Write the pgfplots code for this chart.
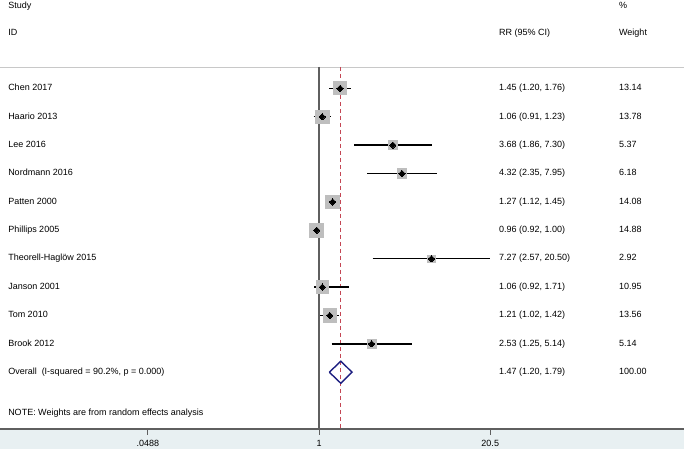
\documentclass[border=0pt]{standalone}
\usepackage{pgfplots}
\pgfplotsset{compat=1.18}
\usepackage{pgfplotstable}
\usepackage{fontspec}
\setmainfont{Liberation Sans}

\definecolor{sqgray}{RGB}{190,190,190}
\definecolor{refred}{RGB}{196,70,84}
\definecolor{axgray}{RGB}{95,95,95}
\definecolor{bandcol}{RGB}{232,240,242}
\definecolor{navy}{RGB}{28,30,128}
\definecolor{rulegray}{RGB}{200,200,200}

\tikzset{lab/.style={anchor=west, inner sep=0pt, text height=6.5pt, text depth=1.9pt,
    font=\fontsize{9}{11}\selectfont}}

% row, estimate, lower, upper, weight
\pgfplotstableread{
k   est   lo    hi     w
1   1.45  1.20  1.76   13.14
2   1.06  0.91  1.23   13.78
3   3.68  1.86  7.30   5.37
4   4.32  2.35  7.95   6.18
5   1.27  1.12  1.45   14.08
6   0.96  0.92  1.00   14.88
7   7.27  2.57  20.50  2.92
8   1.06  0.92  1.71   10.95
9   1.21  1.02  1.42   13.56
10  2.53  1.25  5.14   5.14
}\studies

\newcommand{\ci}[3]{\addplot[black, line width=1.5pt] coordinates {(#2,#1) (#3,#1)};}
\newcommand{\row}[4]{%
  \node[lab] at (axis cs:0.00415,#1) {#2};
  \node[lab] at (axis cs:23.9,#1) {#3};
  \node[lab] at (axis cs:198.5,#1) {#4};}

\begin{document}
\fontsize{9}{11}\selectfont
\begin{tikzpicture}
\begin{axis}[
  set layers,
  scale only axis,
  width=684pt, height=429pt,
  at={(0,0)}, anchor=south west,
  xmode=log,
  xmin=0.003601, xmax=625.2,
  ymin=-2.113, ymax=13,
  y dir=reverse,
  clip=false,
  axis y line=none,
  axis x line*=bottom,
  x axis line style={-, draw=axgray, line width=1.6pt},
  xtick={0.0488,1,20.5},
  xticklabels={.0488,1,20.5},
  minor xtick={},
  tick align=outside,
  major tick length=6pt,
  x tick style={draw=axgray, line width=1pt},
  xticklabel style={font=\fontsize{9}{11}\selectfont, inner sep=0pt, anchor=north, yshift=-5pt},
]
\begin{pgfonlayer}{axis background}
  \fill[bandcol] (rel axis cs:0,0) rectangle ([yshift=-20pt]rel axis cs:1,0);
\end{pgfonlayer}

% header rule, null line, overall line
\addplot[rulegray, line width=0.9pt] coordinates {(0.003601,0.246) (625.2,0.246)};
\addplot[axgray, line width=1.4pt] coordinates {(1,0.246) (1,13)};
\addplot[refred, line width=1pt, dash pattern=on 4pt off 3pt] coordinates {(1.47,0.246) (1.47,13)};

% weight boxes
\addplot[only marks, mark=square*, sqgray,
  mark options={draw=sqgray, fill=sqgray, line width=0pt},
  visualization depends on={1.6*sqrt(\thisrow{w})+0.8 \as \msz},
  scatter, scatter/use mapped color={draw=sqgray, fill=sqgray},
  scatter/@pre marker code/.append style={/tikz/mark size=\msz}]
  table[x=est, y=k] {\studies};

% confidence intervals
\ci{1}{1.20}{1.76}
\ci{2}{0.91}{1.23}
\ci{3}{1.86}{7.30}
\ci{4}{2.35}{7.95}
\ci{5}{1.12}{1.45}
\ci{6}{0.92}{1.00}
\ci{7}{2.57}{20.50}
\ci{8}{0.92}{1.71}
\ci{9}{1.02}{1.42}
\ci{10}{1.25}{5.14}

% point estimates
\addplot[only marks, mark=square*, mark size=2.2pt, black,
  mark options={rotate=45, draw=black, fill=black, line width=0pt}]
  table[x=est, y=k] {\studies};

% pooled estimate
\addplot[navy, line width=1.4pt] coordinates {(1.20,11) (1.47,10.61) (1.79,11) (1.47,11.39) (1.20,11)};

% text columns
\node[lab] at (axis cs:0.00415,-1.9) {Study};
\node[lab] at (axis cs:0.00415,-0.951) {ID};
\node[lab] at (axis cs:23.9,-0.951) {RR (95\% CI)};
\node[lab] at (axis cs:198.5,-1.9) {\%};
\node[lab] at (axis cs:198.5,-0.951) {Weight};
\row{1}{Chen 2017}{1.45 (1.20, 1.76)}{13.14}
\row{2}{Haario 2013}{1.06 (0.91, 1.23)}{13.78}
\row{3}{Lee 2016}{3.68 (1.86, 7.30)}{5.37}
\row{4}{Nordmann 2016}{4.32 (2.35, 7.95)}{6.18}
\row{5}{Patten 2000}{1.27 (1.12, 1.45)}{14.08}
\row{6}{Phillips 2005}{0.96 (0.92, 1.00)}{14.88}
\row{7}{Theorell-Haglöw 2015}{7.27 (2.57, 20.50)}{2.92}
\row{8}{Janson 2001}{1.06 (0.92, 1.71)}{10.95}
\row{9}{Tom 2010}{1.21 (1.02, 1.42)}{13.56}
\row{10}{Brook 2012}{2.53 (1.25, 5.14)}{5.14}
\row{11}{Overall\ \ (I-squared = 90.2\%, p = 0.000)}{1.47 (1.20, 1.79)}{100.00}
\node[lab] at (axis cs:0.00415,12.46) {NOTE: Weights are from random effects analysis};
\end{axis}
\pgfresetboundingbox
\useasboundingbox (0,-20pt) rectangle (684pt,429pt);
\end{tikzpicture}
\end{document}
